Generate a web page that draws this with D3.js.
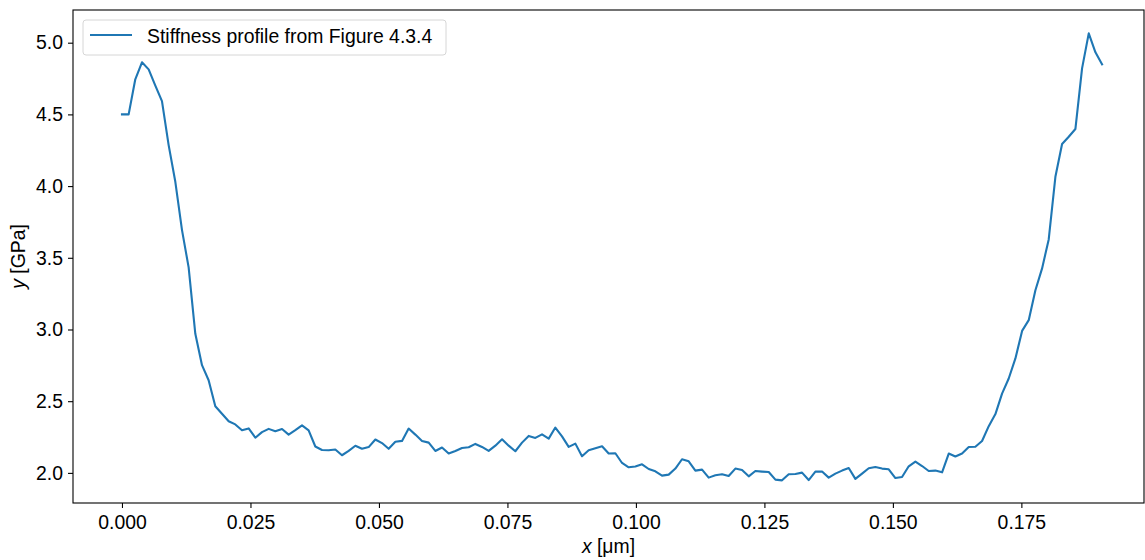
<!DOCTYPE html>
<html>
<head>
<meta charset="utf-8">
<script src="https://cdn.jsdelivr.net/npm/d3@7"></script>
<style>
  body { margin: 0; background: #fff; }
  svg { display: block; font-family: "Liberation Sans", Arial, sans-serif; }
</style>
</head>
<body>
<div id="chart"></div>
<script>
// stiffness profile
const xs = [0, .00130, .00259, .00389, .00519, .00649, .00778, .00908, .01038, .01168,
  .01297, .01427, .01557, .01686, .01816, .01946, .02076, .02205, .02335, .02465,
  .02595, .02724, .02854, .02984, .03114, .03243, .03373, .03503, .03632, .03762,
  .03892, .04022, .04151, .04281, .04411, .04541, .04670, .04800, .04930, .05059,
  .05189, .05319, .05449, .05578, .05708, .05838, .05968, .06097, .06227, .06357,
  .06487, .06616, .06746, .06876, .07005, .07135, .07265, .07395, .07524, .07654,
  .07784, .07914, .08043, .08173, .08303, .08432, .08562, .08692, .08822, .08951,
  .09081, .09211, .09341, .09470, .09600, .09730, .09859, .09989, .10119, .10249,
  .10378, .10508, .10638, .10768, .10897, .11027, .11157, .11287, .11416, .11546,
  .11676, .11805, .11935, .12065, .12195, .12324, .12454, .12584, .12714, .12843,
  .12973, .13103, .13232, .13362, .13492, .13622, .13751, .13881, .14011, .14141,
  .14270, .14400, .14530, .14659, .14789, .14919, .15049, .15178, .15308, .15438,
  .15568, .15697, .15827, .15957, .16087, .16216, .16346, .16476, .16605, .16735,
  .16865, .16995, .17124, .17254, .17384, .17514, .17643, .17773, .17903, .18032,
  .18162, .18292, .18422, .18551, .18681, .18811, .18941, .19070];

const ys = [4.50, 4.50, 4.745, 4.863, 4.814, 4.70, 4.593, 4.286, 4.03, 3.693,
  3.433, 2.97, 2.751, 2.646, 2.465, 2.412, 2.36, 2.338, 2.297, 2.31,
  2.245, 2.284, 2.307, 2.29, 2.306, 2.267, 2.298, 2.331, 2.297, 2.184,
  2.16, 2.158, 2.163, 2.123, 2.153, 2.189, 2.168, 2.18, 2.233, 2.208,
  2.168, 2.217, 2.223, 2.309, 2.267, 2.223, 2.211, 2.153, 2.177, 2.135,
  2.153, 2.174, 2.179, 2.202, 2.181, 2.153, 2.19, 2.234, 2.19, 2.151,
  2.211, 2.258, 2.244, 2.269, 2.239, 2.316, 2.255, 2.181, 2.204, 2.116,
  2.158, 2.172, 2.186, 2.135, 2.137, 2.069, 2.039, 2.044, 2.06, 2.027,
  2.011, 1.981, 1.988, 2.03, 2.095, 2.081, 2.016, 2.023, 1.967, 1.983,
  1.99, 1.978, 2.03, 2.02, 1.976, 2.013, 2.009, 2.006, 1.953, 1.948,
  1.99, 1.992, 2.002, 1.95, 2.009, 2.009, 1.967, 1.995, 2.016, 2.034,
  1.958, 1.995, 2.032, 2.041, 2.03, 2.025, 1.964, 1.971, 2.046, 2.079,
  2.048, 2.013, 2.016, 2.004, 2.135, 2.114, 2.135, 2.18, 2.182, 2.222,
  2.326, 2.41, 2.553, 2.658, 2.798, 2.99, 3.065, 3.274, 3.426, 3.628,
  4.065, 4.293, 4.344, 4.398, 4.821, 5.065, 4.933, 4.849];

const xTicks = [0, 0.025, 0.05, 0.075, 0.1, 0.125, 0.15, 0.175];
const yTicks = [2.0, 2.5, 3.0, 3.5, 4.0, 4.5, 5.0];
const seriesName = "Stiffness profile from Figure 4.3.4";

const W = 1145, H = 560;
const margin = { left: 73, right: 1144, top: 10, bottom: 503 };
const blue = "#1f77b4";
const fontSize = "19.4px";

const svg = d3.select("#chart").append("svg")
  .attr("width", W)
  .attr("height", H);

const x = d3.scaleLinear().domain([-0.00953, 0.19886]).range([margin.left, margin.right]);
const y = d3.scaleLinear().domain([1.79, 5.228]).range([margin.bottom, margin.top]);

const xAxis = svg.append("g")
  .attr("transform", "translate(0," + margin.bottom + ")")
  .call(d3.axisBottom(x).tickValues(xTicks).tickFormat(d3.format(".3f")).tickSizeOuter(0).tickSize(5).tickPadding(7));

const yAxis = svg.append("g")
  .attr("transform", "translate(" + margin.left + ",0)")
  .call(d3.axisLeft(y).tickValues(yTicks).tickFormat(d3.format(".1f")).tickSizeOuter(0).tickSize(5).tickPadding(5));

[xAxis, yAxis].forEach((g) => {
  g.select(".domain").remove();
  g.selectAll(".tick line").attr("stroke", "#000").attr("stroke-width", 1.1);
  g.selectAll(".tick text").attr("fill", "#000").style("font-size", fontSize);
});

const line = d3.line()
  .x((d, i) => x(xs[i]))
  .y((d) => y(d));

svg.append("path")
  .datum(ys)
  .attr("fill", "none")
  .attr("stroke", blue)
  .attr("stroke-width", 2.1)
  .attr("stroke-linejoin", "round")
  .attr("stroke-linecap", "square")
  .attr("d", line);

// frame
svg.append("rect")
  .attr("x", margin.left)
  .attr("y", margin.top)
  .attr("width", margin.right - margin.left)
  .attr("height", margin.bottom - margin.top)
  .attr("fill", "none")
  .attr("stroke", "#000")
  .attr("stroke-width", 1.1);

// axis labels
const xl = svg.append("text")
  .attr("x", (margin.left + margin.right) / 2)
  .attr("y", 553)
  .attr("text-anchor", "middle")
  .style("font-size", fontSize);
xl.append("tspan").style("font-style", "italic").text("x");
xl.append("tspan").text(" [μm]");

const yl = svg.append("text")
  .attr("transform", "translate(25," + (margin.top + margin.bottom) / 2 + ") rotate(-90)")
  .attr("text-anchor", "middle")
  .style("font-size", fontSize);
yl.append("tspan").style("font-style", "italic").text("y");
yl.append("tspan").text(" [GPa]");

// legend
const lg = svg.append("g").attr("transform", "translate(83,20)");
lg.append("rect")
  .attr("width", 363)
  .attr("height", 35)
  .attr("rx", 3)
  .attr("fill", "#fff")
  .attr("fill-opacity", 0.8)
  .attr("stroke", "#d6d6d6")
  .attr("stroke-width", 1);
lg.append("line")
  .attr("x1", 7).attr("x2", 49)
  .attr("y1", 15).attr("y2", 15)
  .attr("stroke", blue)
  .attr("stroke-width", 2.1);
lg.append("text")
  .attr("x", 64)
  .attr("y", 23.3)
  .style("font-size", fontSize)
  .text(seriesName);
</script>
</body>
</html>
